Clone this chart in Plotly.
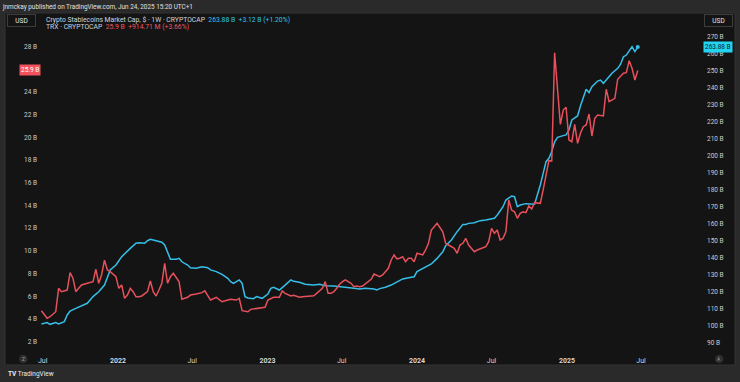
import numpy as np
import pandas as pd
import plotly.graph_objects as go

# ---------------- data (weekly, week index from 2021-06-28) ----------------
start_date = "2021-06-28"

stable_weeks = [0, 2, 3, 5, 6, 8, 9, 10, 12, 15, 16, 18, 20, 22, 23, 24, 26, 28, 31, 33, 34, 36, 37, 38, 40,
                42, 43, 44, 45, 47, 48, 49, 51, 52, 54, 56, 58, 59, 61, 63, 65, 66, 67, 68, 69, 70, 71, 72, 73,
                74, 75, 76, 77, 79, 80, 81, 82, 83, 85, 87, 88, 90, 92, 95, 97, 99, 102, 104, 106, 109, 111, 113,
                116, 117, 118, 120, 122, 124, 126, 129, 130, 131, 133, 136, 138, 140, 141, 143, 145, 147, 148,
                149, 151, 153, 155, 158, 159, 161, 162, 164, 165, 166, 167, 169, 172, 173, 174, 175, 176, 177,
                178, 179, 180, 182, 183, 184, 185, 187, 188, 190, 191, 192, 194, 195, 196, 197, 199, 201, 202,
                203, 204, 206, 207, 208]
stable_cap = [101.0, 101.8, 100.8, 101.8, 101.0, 102.4, 106.3, 108.6, 110.2, 112.2, 113.2, 117.1, 120.0, 123.9,
              128.8, 132.8, 135.7, 140.6, 145.5, 148.5, 148.8, 148.5, 150.0, 150.8, 150.0, 149.1, 147.5, 143.5,
              139.1, 139.1, 139.6, 137.6, 135.7, 134.1, 133.8, 134.7, 134.1, 132.8, 131.8, 130.2, 127.9, 125.9,
              124.9, 125.9, 126.9, 124.9, 117.1, 116.3, 116.3, 115.9, 117.1, 116.5, 116.1, 118.6, 122.0, 122.6,
              121.6, 121.0, 123.9, 126.9, 126.1, 125.5, 124.4, 123.9, 124.4, 123.5, 123.4, 122.9, 122.6, 122.0,
              121.6, 122.0, 121.6, 121.0, 121.8, 122.6, 123.9, 125.9, 127.5, 128.5, 128.8, 131.8, 133.8, 136.3,
              139.6, 143.5, 147.1, 150.4, 155.3, 159.6, 159.6, 160.2, 160.6, 161.8, 162.2, 163.2, 165.1, 170.0,
              173.9, 176.3, 175.9, 170.0, 171.0, 171.8, 171.4, 176.9, 182.8, 189.6, 196.5, 198.5, 202.4, 208.2,
              210.8, 211.8, 212.2, 215.1, 221.0, 223.4, 229.2, 239.1, 237.1, 240.6, 243.9, 244.5, 242.6, 244.5,
              248.5, 251.4, 253.8, 258.2, 259.2, 264.1, 261.2, 263.88]

trx_weeks = [0, 2, 3, 5, 6, 7, 9, 10, 11, 12, 13, 14, 16, 18, 19, 20, 21, 22, 23, 24, 26, 27, 28, 29, 30, 31,
             32, 33, 34, 35, 37, 38, 39, 40, 41, 42, 43, 44, 45, 46, 48, 49, 51, 52, 54, 56, 57, 58, 59, 61, 62,
             63, 65, 66, 68, 69, 70, 72, 73, 76, 78, 79, 80, 81, 83, 84, 85, 87, 88, 90, 91, 93, 95, 96, 98, 99,
             100, 101, 102, 103, 104, 105, 106, 108, 109, 110, 111, 112, 113, 115, 116, 117, 118, 119, 121, 122,
             123, 124, 125, 126, 127, 128, 129, 130, 131, 133, 134, 135, 136, 137, 138, 140, 141, 142, 144, 145,
             146, 147, 148, 149, 151, 152, 154, 155, 156, 157, 158, 159, 160, 161, 162, 163, 164, 165, 166, 167,
             168, 169, 170, 171, 172, 174, 175, 177, 178, 179, 181, 182, 183, 184, 185, 186, 187, 188, 189, 190,
             191, 192, 193, 194, 196, 197, 198, 199, 200, 201, 203, 204, 205, 206, 207, 208]
trx_cap = [4.73, 4.06, 4.20, 4.64, 6.70, 6.41, 6.55, 8.08, 7.60, 6.41, 6.70, 7.00, 7.15, 7.29, 8.38, 7.15, 7.90,
           9.19, 8.32, 8.17, 7.73, 6.70, 7.00, 5.82, 6.11, 6.70, 6.41, 5.96, 5.96, 6.03, 6.41, 7.35, 6.41, 6.03,
           6.55, 7.15, 8.91, 7.15, 7.73, 8.03, 7.29, 5.74, 5.91, 6.11, 6.20, 6.32, 6.49, 6.11, 5.67, 5.91, 5.67,
           5.52, 5.67, 5.74, 5.67, 5.82, 4.73, 4.64, 4.85, 4.94, 5.03, 5.67, 5.76, 5.91, 5.91, 6.47, 6.26, 6.03,
           6.09, 5.91, 5.96, 6.03, 6.05, 6.26, 6.70, 7.29, 6.26, 6.26, 6.41, 6.70, 7.06, 7.29, 7.44, 7.15, 6.85,
           6.91, 6.85, 6.91, 7.08, 7.50, 7.96, 7.81, 7.73, 7.88, 8.47, 9.20, 9.64, 9.30, 9.35, 9.49, 9.05, 9.35,
           9.35, 9.05, 9.79, 9.64, 10.08, 10.67, 11.84, 12.13, 12.43, 11.69, 10.67, 10.52, 10.23, 9.79, 10.52,
           10.67, 11.11, 10.52, 9.93, 10.08, 10.23, 10.37, 10.81, 11.99, 11.55, 11.84, 10.96, 11.11, 11.69, 14.48,
           13.60, 13.45, 12.87, 13.31, 13.45, 13.37, 13.96, 13.69, 14.25, 14.19, 15.37, 17.95, 17.92, 27.46,
           21.15, 22.41, 22.65, 19.77, 19.62, 21.15, 19.48, 20.36, 20.94, 21.09, 22.06, 20.12, 21.68, 21.97,
           21.89, 24.24, 23.15, 23.30, 23.44, 25.12, 25.65, 25.70, 26.76, 26.09, 25.06, 25.90]

left_ticks = [2, 4, 6, 8, 10, 12, 14, 16, 18, 20, 22, 24, 28]
right_ticks = [90, 100, 110, 120, 130, 140, 150, 160, 170, 180, 190, 200, 210, 220, 230, 240, 250, 260, 270]
x_tick_dates = ["2021-07-01", "2022-01-01", "2022-07-01", "2023-01-01", "2023-07-01",
                "2024-01-01", "2024-07-01", "2025-01-01", "2025-07-01"]
x_tick_text = ["Jul", "<b>2022</b>", "Jul", "<b>2023</b>", "Jul", "<b>2024</b>", "Jul", "<b>2025</b>", "Jul"]

# ---------------- styling ----------------
W, H = 740, 382
PL, PR, PT, PB = 40, 702, 30, 352
OUTER = "#2a2a2a"
PANEL = "#141414"
BLUE = "#35bfe9"
RED = "#e8505b"
TXT = "#d1d4dc"
FONT = "Roboto, sans-serif"
NARROW = "Liberation Sans Narrow, Roboto, sans-serif"
CYAN_TXT = "#2fc3ef"
RED_TXT = "#f0555f"


def px(x):
    return (x - PL) / (PR - PL)


def py(y):
    return (PB - y) / (PB - PT)


start = pd.Timestamp(start_date)
stable_dates = start + pd.to_timedelta(np.array(stable_weeks) * 7, unit="D")
trx_dates = start + pd.to_timedelta(np.array(trx_weeks) * 7, unit="D")

fig = go.Figure()
fig.add_trace(go.Scatter(x=stable_dates, y=stable_cap, mode="lines", yaxis="y",
                         line=dict(color=BLUE, width=1.5), hoverinfo="skip", showlegend=False))
fig.add_trace(go.Scatter(x=[stable_dates[-1]], y=[stable_cap[-1]], mode="markers", yaxis="y",
                         marker=dict(color=BLUE, size=4), hoverinfo="skip", showlegend=False))
fig.add_trace(go.Scatter(x=trx_dates, y=trx_cap, mode="lines", yaxis="y2",
                         line=dict(color=RED, width=1.5), hoverinfo="skip", showlegend=False))

fig.update_layout(
    width=W, height=H,
    margin=dict(l=PL, r=W - PR, t=PT, b=H - PB, pad=0),
    paper_bgcolor=OUTER, plot_bgcolor=PANEL,
    font=dict(family=FONT, size=7, color=TXT),
    xaxis=dict(type="date", range=["2021-06-24 14:00", "2025-11-26 19:00"],
               tickmode="array", tickvals=x_tick_dates, ticktext=x_tick_text,
               showgrid=False, zeroline=False, showline=False, ticks="", ticklabelstandoff=3,
               tickfont=dict(size=7, color=TXT)),
    yaxis=dict(side="right", range=[84.53, 273.94], tickmode="array", tickvals=right_ticks,
               ticktext=[f"{v} B" for v in right_ticks], showgrid=False, zeroline=False,
               showline=False, ticks="", ticklabelstandoff=4, tickfont=dict(size=6.5, color="#c9cbd2")),
    yaxis2=dict(side="left", overlaying="y", range=[1.093, 29.46], tickmode="array",
                tickvals=left_ticks, ticktext=[f"{v} B" for v in left_ticks], showgrid=False,
                zeroline=False, showline=False, ticks="", ticklabelstandoff=2,
                tickfont=dict(size=6.5, color="#c9cbd2")),
)

shapes = [
    dict(type="rect", xref="paper", yref="paper", x0=px(5), x1=px(735), y0=py(365), y1=py(13),
         fillcolor=PANEL, line=dict(color="#333333", width=1), layer="below"),
    dict(type="circle", xref="paper", yref="paper", x0=px(19), x1=px(27.5), y0=py(363.3), y1=py(354.8),
         fillcolor="#2e2e2e", line=dict(width=0)),
    dict(type="circle", xref="paper", yref="paper", x0=px(715), x1=px(723.5), y0=py(363.3), y1=py(354.8),
         fillcolor="#2e2e2e", line=dict(width=0)),
]
fig.update_layout(shapes=shapes)


def ann(x, y, text, color=TXT, size=7, xanchor="left", family=FONT, **kw):
    fig.add_annotation(x=px(x), y=py(y), xref="paper", yref="paper", text=text, showarrow=False,
                       xanchor=xanchor, yanchor="middle", font=dict(family=family, size=size, color=color), **kw)


ann(0, 6.5, "jnmckay published on TradingView.com, Jun 24, 2025 15:20 UTC+1", color="#e0e0e0", size=6.4)
ann(44, 20, "Crypto Stablecoins Market Cap, $ · 1W · CRYPTOCAP  "
            f"<span style='color:{CYAN_TXT}'>263.88 B  +3.12 B (+1.20%)</span>", size=6.8, family=NARROW)
ann(44, 27.5, "TRX · CRYPTOCAP  "
              f"<span style='color:{RED_TXT}'>25.9 B  +914.71 M (+3.66%)</span>", size=6.8, family=NARROW)

ann(21, 20, "USD", color="#e8e8e8", xanchor="center", bgcolor=PANEL, bordercolor="#3c3c3c",
    borderwidth=1, borderpad=1.5, size=6.5, width=24, height=8)
ann(718.5, 20, "USD", color="#e8e8e8", xanchor="center", bgcolor=PANEL, bordercolor="#3c3c3c",
    borderwidth=1, borderpad=1.5, size=6.5, width=24, height=8)

ann(29.5, 70, "25.9 B", color="#ffffff", xanchor="center", bgcolor="#f2525e", borderpad=1, size=6.5)
ann(718, 47, "263.88 B", color="#0b1a20", xanchor="center", bgcolor="#22d3f2", borderpad=1, size=6.5)

ann(23.2, 359, "Z", color="#9a9a9a", size=5, xanchor="center")
ann(719.2, 359, "A", color="#9a9a9a", size=5, xanchor="center")
ann(6, 374, "<b>TV</b> TradingView", color="#ececec", size=6.5, family=NARROW)

fig.write_html("out.html", config={"displayModeBar": False},
               post_script="document.body.style.margin='0';document.body.style.background='#2a2a2a';")
